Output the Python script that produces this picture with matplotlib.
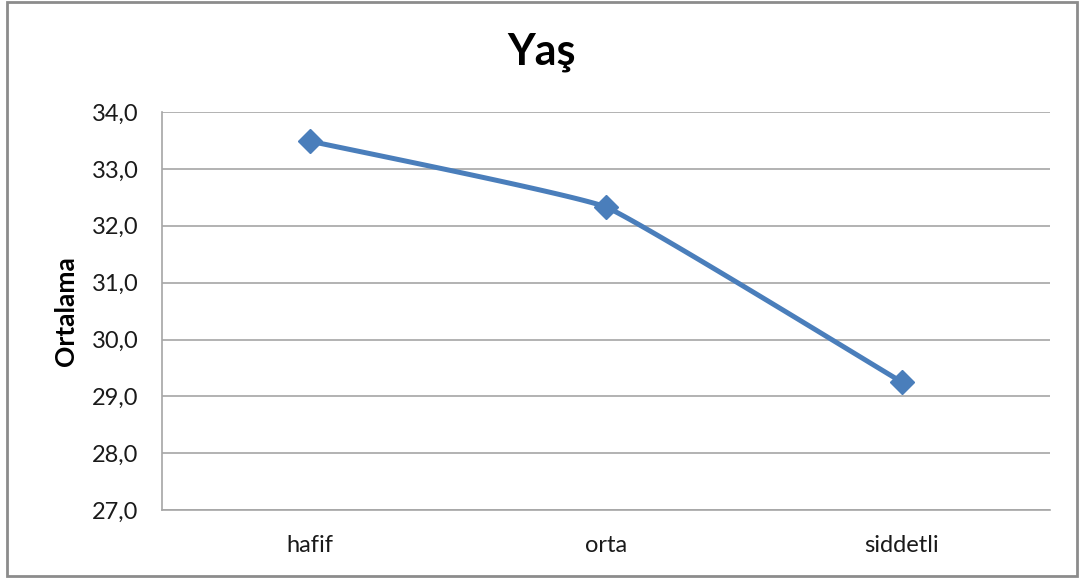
import numpy as np
import matplotlib
matplotlib.use("Agg")
import matplotlib.pyplot as plt
from matplotlib.patches import Rectangle

categories = ["hafif", "orta", "siddetli"]
means = [33.49, 32.33, 29.25]
yticks = [27.0, 28.0, 29.0, 30.0, 31.0, 32.0, 33.0, 34.0]

plt.rcParams["font.family"] = ["Lato", "DejaVu Sans"]

fig = plt.figure(figsize=(10.84, 5.78), dpi=100)
ax = fig.add_axes([0.1494, 0.1176, 0.8192, 0.6884])

x = np.arange(len(categories), dtype=float)
y = np.array(means, dtype=float)

# lightly smoothed curve through the points (Catmull-Rom style Bezier segments)
def smooth(xp, yp, n=60, t=0.15):
    px = np.concatenate([[2 * xp[0] - xp[1]], xp, [2 * xp[-1] - xp[-2]]])
    py = np.concatenate([[2 * yp[0] - yp[1]], yp, [2 * yp[-1] - yp[-2]]])
    xs, ys = [], []
    for i in range(1, len(px) - 2):
        p0, p1, p2, p3 = [np.array([px[j], py[j]]) for j in range(i - 1, i + 3)]
        c1 = p1 + (p2 - p0) * t / 3
        c2 = p2 - (p3 - p1) * t / 3
        s = np.linspace(0, 1, n)[:, None]
        b = (1 - s) ** 3 * p1 + 3 * (1 - s) ** 2 * s * c1 + 3 * (1 - s) * s ** 2 * c2 + s ** 3 * p2
        xs.append(b[:, 0]); ys.append(b[:, 1])
    return np.concatenate(xs), np.concatenate(ys)

sx, sy = smooth(x, y)
color = "#4A7EBB"
ax.plot(sx, sy, color=color, lw=3.6, solid_capstyle="round", zorder=3)
ax.plot(x, y, linestyle="none", marker="D", markersize=12.5, color=color, zorder=4)

ax.set_xlim(-0.5, len(categories) - 0.5)
ax.set_ylim(27, 34)
ax.set_yticks(yticks)
ax.set_yticklabels([f"{v:.1f}".replace(".", ",") for v in yticks], fontsize=17, color="#1a1a1a")
ax.set_xticks(x)
ax.set_xticklabels(categories, fontsize=17, color="#1a1a1a")
ax.tick_params(axis="y", length=0, pad=17)
ax.tick_params(axis="x", length=0, pad=18)
ax.yaxis.grid(True, color="#A6A6A6", lw=1.2)
ax.set_axisbelow(True)
for side in ("top", "right"):
    ax.spines[side].set_visible(False)
for side in ("left", "bottom"):
    ax.spines[side].set_color("#A6A6A6")
    ax.spines[side].set_linewidth(1.2)

ax.set_ylabel("Ortalama", fontsize=19, fontweight="bold", labelpad=10)
fig.text(0.5, 0.91, "Yaş", ha="center", va="center", fontsize=31, fontweight="bold")

fig.patches.append(Rectangle((0.006, 0.003), 0.988, 0.993, transform=fig.transFigure,
                             fill=False, edgecolor="#8C8C8C", lw=2))

fig.savefig("out.png", dpi=100)
